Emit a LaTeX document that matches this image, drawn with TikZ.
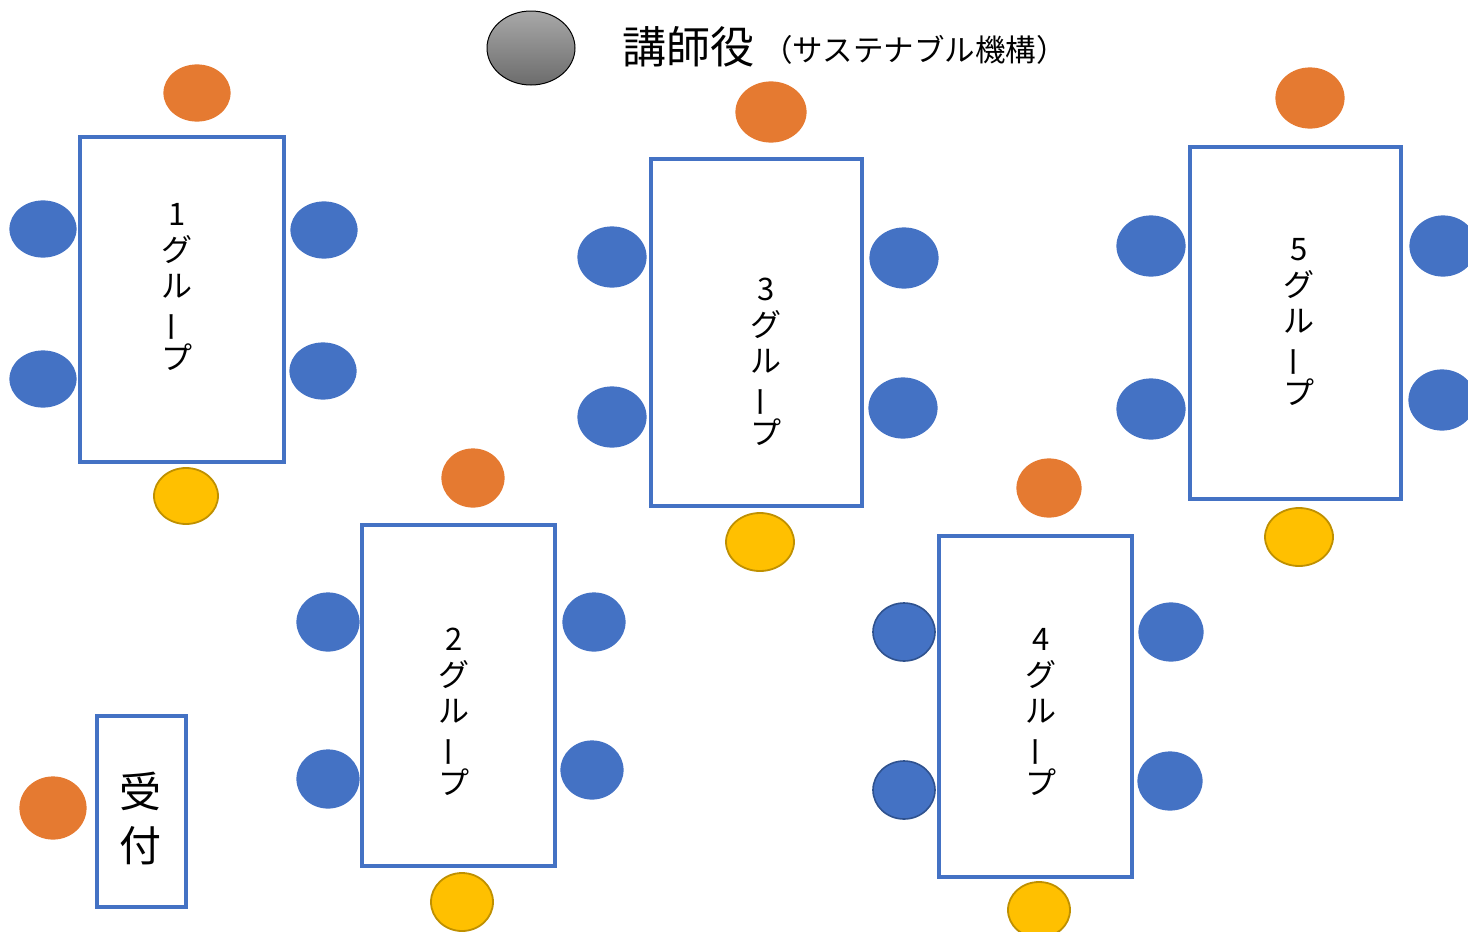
\documentclass[tikz,border=0pt]{standalone}
\usepackage{fontspec}
\usepackage{graphicx}
\setmainfont{Noto Sans CJK JP}
\usetikzlibrary{shapes.geometric}
\definecolor{obl}{HTML}{4472C4}
\definecolor{obldark}{HTML}{2F528F}
\definecolor{oor}{HTML}{E57A31}
\definecolor{oye}{HTML}{FFC000}
\definecolor{oyed}{HTML}{BF9000}
\tikzset{
  seat/.style={ellipse, inner sep=0pt, line width=1.2pt},
  blueseat/.style={seat, fill=obl, draw=obl},
  blueseatd/.style={seat, fill=obl, draw=obldark, line width=1.6pt},
  orangeseat/.style={seat, fill=oor, draw=oor},
  yellowseat/.style={seat, fill=oye, draw=oyed, line width=1.8pt},
  tablebox/.style={draw=obl, line width=4pt, fill=white},
  grouplabel/.style={align=center, font=\fontsize{31}{36}\selectfont, inner sep=0pt},
}
\newcommand{\vbar}{\rotatebox[origin=c]{90}{ー}}
\begin{document}
\begin{tikzpicture}[x=1pt,y=-1pt]
\useasboundingbox (0,0) rectangle (1468,932);
% lecturer
\node[seat, draw=black, line width=1pt, top color={rgb,255:red,168;green,168;blue,168}, bottom color={rgb,255:red,108;green,108;blue,108}, minimum width=88pt, minimum height=74pt] (lect) at (531,48) {};
\node[anchor=west, inner sep=0pt, font=\fontsize{44}{48}\selectfont] (ttl) at (622,47) {講師役};
\node[anchor=west, inner sep=0pt, font=\fontsize{30.5}{34}\selectfont] (sub) at (762,50) {（サステナブル機構）};
% table 1
\draw[tablebox] (80,137) rectangle (284,462);
\node[grouplabel] (t1) at (177,287) {1\\グ\\ル\\\vbar\\プ};
\node[orangeseat, minimum width=66pt, minimum height=56pt] (o1) at (197,93) {};
\node[blueseat, minimum width=66pt, minimum height=56pt] (b1a) at (43,229) {};
\node[blueseat, minimum width=66pt, minimum height=56pt] (b1b) at (43,379) {};
\node[blueseat, minimum width=66pt, minimum height=56pt] (b1c) at (324,230) {};
\node[blueseat, minimum width=66pt, minimum height=56pt] (b1d) at (323,371) {};
\node[yellowseat, minimum width=64pt, minimum height=56pt] (y1) at (186,496) {};
% table 2
\draw[tablebox] (362,525) rectangle (555,866);
\node[grouplabel] (t2) at (454,712) {2\\グ\\ル\\\vbar\\プ};
\node[orangeseat, minimum width=62pt, minimum height=58pt] (o2) at (473,478) {};
\node[blueseat, minimum width=62pt, minimum height=58pt] (b2a) at (328,622) {};
\node[blueseat, minimum width=62pt, minimum height=58pt] (b2b) at (328,779) {};
\node[blueseat, minimum width=62pt, minimum height=58pt] (b2c) at (594,622) {};
\node[blueseat, minimum width=62pt, minimum height=58pt] (b2d) at (592,770) {};
\node[yellowseat, minimum width=62pt, minimum height=58pt] (y2) at (462,902) {};
% table 3
\draw[tablebox] (651,159) rectangle (862,506);
\node[grouplabel] (t3) at (766,362) {3\\グ\\ル\\\vbar\\プ};
\node[orangeseat, minimum width=70pt, minimum height=60pt] (o3) at (771,112) {};
\node[blueseat, minimum width=68pt, minimum height=60pt] (b3a) at (612,257) {};
\node[blueseat, minimum width=68pt, minimum height=60pt] (b3b) at (612,417) {};
\node[blueseat, minimum width=68pt, minimum height=60pt] (b3c) at (904,258) {};
\node[blueseat, minimum width=68pt, minimum height=60pt] (b3d) at (903,408) {};
\node[yellowseat, minimum width=68pt, minimum height=58pt] (y3) at (760,542) {};
% table 4
\draw[tablebox] (939,536) rectangle (1132,877);
\node[grouplabel] (t4) at (1041,712) {4\\グ\\ル\\\vbar\\プ};
\node[orangeseat, minimum width=64pt, minimum height=58pt] (o4) at (1049,488) {};
\node[blueseatd, minimum width=62pt, minimum height=58pt] (b4a) at (904,632) {};
\node[blueseatd, minimum width=62pt, minimum height=58pt] (b4b) at (904,790) {};
\node[blueseat, minimum width=64pt, minimum height=58pt] (b4c) at (1171,632) {};
\node[blueseat, minimum width=64pt, minimum height=58pt] (b4d) at (1170,781) {};
\node[yellowseat, minimum width=62pt, minimum height=56pt] (y4) at (1039,910) {};
% table 5
\draw[tablebox] (1190,147) rectangle (1401,499);
\node[grouplabel] (t5) at (1299,322) {5\\グ\\ル\\\vbar\\プ};
\node[orangeseat, minimum width=68pt, minimum height=60pt] (o5) at (1310,98) {};
\node[blueseat, minimum width=68pt, minimum height=60pt] (b5a) at (1151,246) {};
\node[blueseat, minimum width=68pt, minimum height=60pt] (b5b) at (1151,409) {};
\node[blueseat, minimum width=66pt, minimum height=60pt] (b5c) at (1443,246) {};
\node[blueseat, minimum width=66pt, minimum height=60pt] (b5d) at (1442,400) {};
\node[yellowseat, minimum width=68pt, minimum height=58pt] (y5) at (1299,537) {};
% reception
\draw[tablebox] (97,716) rectangle (186,907);
\node[align=center, inner sep=0pt, font=\fontsize{42}{54}\selectfont] (rec) at (140,818) {受\\付};
\node[orangeseat, minimum width=66pt, minimum height=62pt] (orec) at (53,808) {};
\end{tikzpicture}
\end{document}
